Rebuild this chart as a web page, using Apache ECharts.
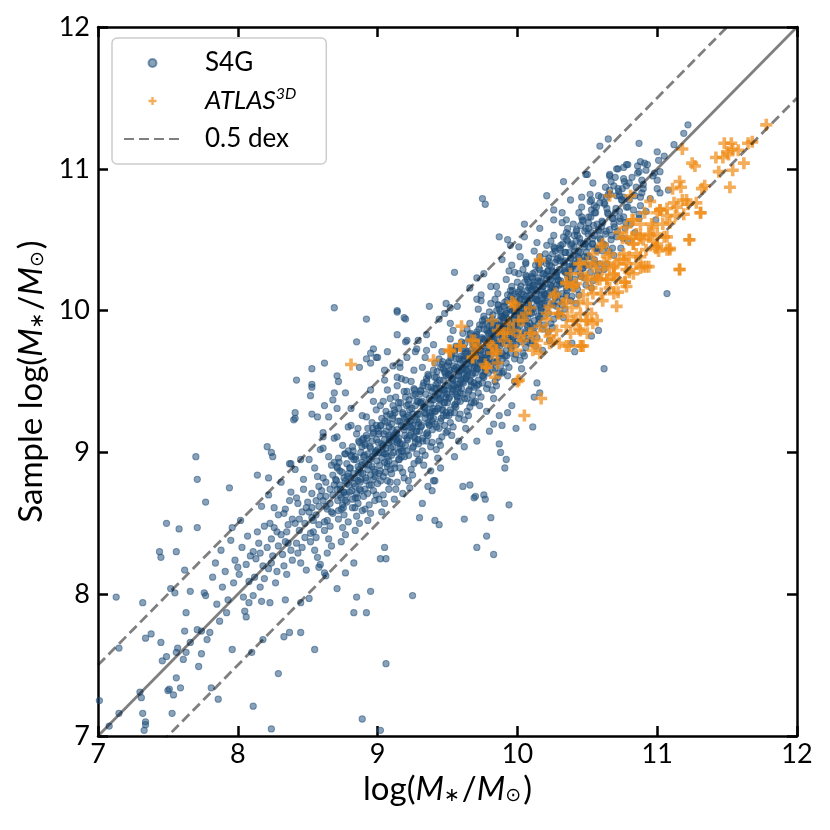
<!DOCTYPE html>
<html>
<head>
<meta charset="utf-8">
<title>S4G vs ATLAS3D stellar masses</title>
<script src="https://cdn.jsdelivr.net/npm/echarts@6.0.0/dist/echarts.min.js"></script>
<style>
  html, body { margin: 0; padding: 0; background: #ffffff; }
  #chart { width: 830px; height: 830px; }
</style>
</head>
<body>
<div id="chart"></div>
<script>
// 坐标轴范围与刻度
const axisMin = 7;
const axisMax = 12;
const tickStep = 1;
const tickValues = [7, 8, 9, 10, 11, 12];

// 参考线: 1:1 以及 ±0.5 dex
const lineX = [7, 12];
const dexOffset = 0.5;

// S4G 样本 (x = log M*, y = Sample log M*)
const s4gPoints = [
  // 左下方离散点
  [7.70,8.97],[7.71,8.81],[7.77,8.65],[7.94,8.75],[7.49,8.50],[7.58,8.46],[7.71,8.47],[7.44,8.30],[7.45,8.26],[7.56,8.30],
  [7.13,7.98],[7.32,7.94],[7.52,8.04],[7.55,8.01],[7.63,7.87],[7.62,8.17],[7.66,8.02],[7.76,8.01],[7.77,7.99],[7.34,7.69],
  [7.38,7.72],[7.45,7.66],[7.15,7.62],[7.49,7.56],[7.46,7.53],[7.57,7.62],[7.56,7.59],[7.62,7.74],[7.71,7.75],[7.74,7.74],
  [7.80,7.73],[7.78,7.68],[7.66,7.66],[7.63,7.59],[7.61,7.54],[7.74,7.58],[7.72,7.49],[7.56,7.41],[7.59,7.34],[7.50,7.32],
  [7.51,7.33],[7.54,7.29],[7.30,7.31],[7.31,7.27],[7.15,7.16],[7.32,7.16],[7.34,7.10],[7.34,7.08],[7.33,7.04],[7.08,7.07],
  [7.01,7.25],[7.53,7.16],[7.81,7.34],[7.86,7.26],[7.96,7.61],[8.10,7.59],[8.11,7.21],[8.18,7.68],[8.24,7.05],[8.29,7.44],
  [8.33,7.70],[8.37,7.73],[8.45,7.73],[8.55,7.61],[8.89,7.12],[9.02,7.04],[9.06,7.51],[8.83,7.87],[8.92,7.87],[8.85,7.98],
  [8.95,8.02],[9.25,7.99],[8.71,8.04],[8.51,7.97],[8.45,7.94],[8.34,7.96],[8.23,7.94],[8.17,7.95],[8.08,7.94],[8.06,7.84],
  [9.05,8.33],[9.02,8.25],[9.06,8.25],[8.77,8.15],[8.83,8.22],[8.62,8.15],[8.63,8.13],[8.59,8.21],[8.58,8.19],
  [8.21,9.04],[8.24,9.00],[8.25,8.97],[8.14,8.84],[8.22,8.82],[8.37,8.92],[8.40,9.23],
  // 左上方离散点
  [8.69,10.02],[8.92,9.94],[9.14,9.99],[9.20,9.94],[9.37,10.03],[8.85,9.78],[8.97,9.73],[8.95,9.70],[8.92,9.66],[9.00,9.67],
  [9.07,9.71],[8.62,9.63],[8.53,9.59],[8.87,9.60],[8.42,9.51],[8.71,9.54],[8.72,9.50],[8.53,9.46],[8.52,9.40],[8.69,9.42],
  [8.68,9.37],[8.77,9.42],[8.62,9.33],[8.41,9.28],[8.41,9.24],[8.53,9.27],[8.57,9.25],[8.65,9.25],[8.71,9.31],[8.81,9.31],
  [9.14,9.83],[9.20,9.78],[9.05,9.58],[9.16,9.60],[9.28,9.73],[9.35,9.72],[8.38,8.92],[8.61,9.14],[8.61,9.11],[8.53,9.48],
  [9.21,9.79],[9.29,9.79],[8.99,9.67],[8.95,9.63],[9.11,9.61],[9.16,9.63],[9.21,9.67],[9.27,9.71],[9.14,9.53],[9.20,9.51],
  [9.49,10.05],[9.57,10.03],[9.48,9.98],[9.44,9.94],[9.52,9.91],[9.35,9.83],[9.40,9.76],[9.52,10.02],
  // 上方离散点
  [10.65,11.21],[10.59,11.16],[10.87,11.18],[10.79,11.03],[10.76,11.01],[10.71,11.00],[10.66,10.95],[10.70,10.94],[10.49,10.96],[10.33,10.91],
  [10.54,10.90],[10.63,10.87],[10.69,10.88],[10.80,10.90],[10.86,10.97],[9.75,10.79],[9.77,10.75],[10.21,10.81],[10.38,10.78],[10.46,10.80],
  [10.52,10.77],[10.58,10.81],[10.64,10.80],[10.73,10.81],[10.26,10.71],[10.32,10.69],[10.26,10.64],[10.35,10.64],[10.05,10.61],[10.16,10.58],
  [9.87,10.52],[9.93,10.50],[10.05,10.52],[9.95,10.46],[10.01,10.45],[9.55,10.27],[10.02,10.38],[9.71,10.23],[9.76,10.26],[9.14,10.00],
  [9.19,9.95],[9.66,10.16],[9.74,10.11],[9.81,10.17],[9.71,10.08],[9.89,10.36],[9.96,10.32],[9.98,10.27],[10.06,10.34],[10.16,10.17],
  [11.22,11.31],[11.19,11.25],[11.00,11.12],[11.01,11.06],[10.88,11.05],[10.91,11.04],[10.92,10.99],[10.87,10.98],[10.78,11.03],[10.72,11.00],
  [10.50,10.96],[10.66,10.96],[10.90,10.89],[11.00,10.92],[10.98,10.97],[10.75,10.86],[10.76,10.80],[10.84,10.81],[10.89,10.83],[11.00,10.86],
  [11.02,10.83],[10.53,10.78],[10.59,10.76],[10.79,10.73],[10.88,10.74],[10.87,10.65],[11.07,10.12],[10.62,9.59],
  // 右下方离散点
  [10.14,9.49],[10.16,9.42],[10.12,9.39],[9.96,9.33],[9.93,9.28],[9.87,9.26],[9.89,9.19],[9.83,9.20],[9.99,9.17],[10.11,9.18],
  [9.87,9.06],[9.88,9.00],[9.92,8.95],[9.91,8.89],[9.80,9.15],[9.71,9.08],[9.61,8.76],[9.66,8.77],[9.69,8.68],[9.77,8.67],
  [9.94,8.63],[9.81,8.54],[9.62,8.53],[9.41,8.52],[9.44,8.49],[9.30,8.54],[9.32,8.64],[9.78,8.41],[9.71,8.33],[9.83,8.28],
  [9.36,8.76],[9.39,8.73],[9.41,8.80],[9.45,8.89],[9.55,8.97],[9.62,9.04],[9.70,8.69],[9.76,8.70],[9.40,8.80],
  [10.39,9.77],[10.41,9.71],[10.53,9.82],[10.58,9.86],
  // 主体密集带
  [7.82,8.12],[7.85,7.93],[7.88,8.31],[7.84,8.22],[7.87,7.81],[7.89,8.05],
  [7.91,8.16],[7.93,7.96],[7.95,8.38],[7.97,8.08],[7.92,7.87],[7.98,8.24],[7.96,8.47],
  [8.01,8.14],[8.03,8.33],[8.04,7.98],[8.06,8.21],[8.02,8.52],[8.08,8.09],[8.07,8.41],[8.09,8.27],[8.05,7.88],[8.00,8.19],
  [8.11,8.30],[8.12,8.12],[8.14,8.44],[8.13,8.25],[8.16,8.05],[8.15,8.36],[8.17,8.62],[8.18,8.20],[8.19,8.48],[8.11,7.99],[8.16,8.29],[8.19,8.11],
  [8.21,8.33],[8.22,8.18],[8.23,8.50],[8.24,8.39],[8.25,8.27],[8.26,8.61],[8.27,8.08],[8.28,8.44],[8.29,8.34],[8.22,8.70],[8.24,8.22],[8.26,8.47],[8.28,8.16],[8.29,8.56],
  [8.31,8.42],[8.32,8.28],[8.33,8.57],[8.34,8.37],[8.35,8.14],[8.36,8.49],[8.37,8.66],[8.38,8.31],[8.39,8.53],[8.31,8.79],[8.33,8.20],[8.35,8.44],[8.36,8.36],[8.38,8.72],[8.39,8.24],[8.34,8.60],
  [8.41,8.50],[8.42,8.36],[8.43,8.64],[8.44,8.45],[8.45,8.22],[8.46,8.58],[8.47,8.74],[8.48,8.40],[8.49,8.61],[8.41,8.88],[8.43,8.29],[8.44,8.53],[8.46,8.33],[8.47,8.81],[8.48,8.50],[8.49,8.17],[8.42,8.68],[8.45,8.95],
  [8.51,8.58],[8.52,8.43],[8.53,8.71],[8.54,8.52],[8.55,8.31],[8.56,8.66],[8.57,8.83],[8.58,8.49],[8.59,8.69],[8.51,8.95],[8.52,8.37],[8.53,8.61],[8.54,8.44],[8.55,8.89],[8.56,8.56],[8.57,8.26],[8.58,8.76],[8.59,9.02],[8.50,8.65],[8.53,8.54],[8.56,8.40],[8.58,8.62],
  [8.61,8.66],[8.62,8.51],[8.63,8.79],[8.64,8.60],[8.65,8.39],[8.66,8.74],[8.67,8.91],[8.68,8.57],[8.69,8.77],[8.61,9.03],[8.62,8.45],[8.63,8.69],[8.64,8.52],[8.65,8.97],[8.66,8.64],[8.67,8.34],[8.68,8.84],[8.69,9.10],[8.60,8.73],[8.63,8.62],[8.66,8.48],[8.68,8.70],[8.61,8.82],[8.64,8.29],[8.67,8.58],[8.69,8.93],
  [8.71,8.74],[8.72,8.59],[8.73,8.87],[8.74,8.68],[8.75,8.47],[8.76,8.82],[8.77,8.99],[8.78,8.65],[8.79,8.85],[8.71,9.11],[8.72,8.53],[8.73,8.77],[8.74,8.60],[8.75,9.05],[8.76,8.72],[8.77,8.42],[8.78,8.92],[8.79,9.18],[8.70,8.81],[8.73,8.70],[8.76,8.56],[8.78,8.78],[8.71,8.90],[8.74,8.37],[8.77,8.66],[8.79,9.01],[8.72,8.96],[8.75,8.63],[8.77,8.80],[8.79,8.51],
  [8.81,8.82],[8.82,8.67],[8.83,8.95],[8.84,8.76],[8.85,8.55],[8.86,8.90],[8.87,9.07],[8.88,8.73],[8.89,8.93],[8.81,9.19],[8.82,8.61],[8.83,8.85],[8.84,8.68],[8.85,9.13],[8.86,8.80],[8.87,8.50],[8.88,9.00],[8.89,9.26],[8.80,8.89],[8.83,8.78],[8.86,8.64],[8.88,8.86],[8.81,8.98],[8.84,8.45],[8.87,8.74],[8.89,9.09],[8.82,9.04],[8.85,8.71],[8.87,8.88],[8.89,8.59],[8.80,8.72],[8.84,8.97],[8.86,9.17],[8.88,8.81],
  [8.90,8.97],[8.91,8.74],[8.92,9.12],[8.93,8.88],[8.94,8.63],[8.95,9.03],[8.96,9.21],[8.97,8.81],[8.98,8.99],[8.99,9.30],[8.90,8.69],[8.91,8.92],[8.92,8.80],[8.93,9.17],[8.94,8.95],[8.95,8.57],[8.96,9.08],[8.97,9.36],[8.98,8.86],[8.99,8.70],[8.91,9.05],[8.93,8.52],[8.95,8.84],[8.97,9.14],[8.99,9.01],[8.92,9.25],[8.94,8.77],[8.96,8.90],[8.98,8.66],[8.90,9.10],[8.93,8.99],[8.95,9.44],[8.97,8.73],[8.99,9.19],[8.91,8.60],[8.96,8.97],
  [9.00,9.02],[9.01,8.85],[9.02,9.19],[9.03,8.96],[9.04,8.70],[9.05,9.09],[9.06,9.29],[9.07,8.90],[9.08,9.07],[9.09,9.38],[9.00,8.78],[9.01,9.00],[9.02,8.87],[9.03,9.24],[9.04,9.05],[9.05,8.64],[9.06,9.15],[9.07,9.44],[9.08,8.94],[9.09,8.79],[9.01,9.13],[9.03,8.58],[9.05,8.93],[9.07,9.21],[9.09,9.11],[9.02,9.33],[9.04,8.83],[9.06,8.99],[9.08,8.74],[9.00,9.17],[9.03,9.06],[9.05,9.51],[9.07,8.80],[9.09,9.27],[9.01,8.67],[9.06,9.03],[9.04,9.36],[9.08,9.12],
  [9.10,9.08],[9.11,9.26],[9.12,8.92],[9.13,9.14],[9.14,8.79],[9.15,9.35],[9.16,9.03],[9.17,9.19],[9.18,8.86],[9.19,9.43],[9.10,8.98],[9.11,9.11],[9.12,9.30],[9.13,8.74],[9.14,9.07],[9.15,8.95],[9.16,9.22],[9.17,9.52],[9.18,9.01],[9.19,8.82],[9.10,9.20],[9.12,8.67],[9.14,9.16],[9.16,8.89],[9.18,9.28],[9.11,9.04],[9.13,9.39],[9.15,9.10],[9.17,8.97],[9.19,9.16],[9.10,8.85],[9.12,9.12],[9.14,9.47],[9.16,9.06],[9.18,8.71],[9.11,9.33],[9.15,9.00],[9.19,9.24],
  [9.20,9.18],[9.21,9.01],[9.22,9.34],[9.23,9.12],[9.24,8.88],[9.25,9.27],[9.26,9.45],[9.27,9.07],[9.28,9.23],[9.29,8.94],[9.20,9.39],[9.21,9.21],[9.22,8.80],[9.23,9.30],[9.24,9.14],[9.25,9.03],[9.26,9.58],[9.27,9.25],[9.28,8.99],[9.29,9.36],[9.21,9.10],[9.23,8.75],[9.25,9.19],[9.27,9.41],[9.29,9.09],[9.22,9.26],[9.24,9.50],[9.26,8.92],[9.28,9.15],[9.20,9.05],[9.23,9.22],[9.25,8.84],[9.27,9.33],[9.29,9.20],[9.21,9.43],[9.26,9.11],
  [9.30,9.27],[9.31,9.44],[9.32,9.10],[9.33,9.32],[9.34,8.98],[9.35,9.52],[9.36,9.21],[9.37,9.38],[9.38,9.04],[9.39,9.29],[9.30,9.15],[9.31,9.35],[9.32,9.60],[9.33,8.91],[9.34,9.24],[9.35,9.13],[9.36,9.46],[9.37,9.19],[9.38,9.34],[9.39,9.07],[9.30,9.41],[9.32,9.01],[9.34,9.31],[9.36,9.55],[9.38,9.26],[9.31,9.18],[9.33,9.49],[9.35,9.08],[9.37,9.28],[9.39,9.43],[9.30,8.95],[9.32,9.36],[9.34,9.67],[9.36,9.12],[9.38,8.87],[9.39,9.22],
  [9.40,9.37],[9.41,9.20],[9.42,9.53],[9.43,9.31],[9.44,9.08],[9.45,9.45],[9.46,9.62],[9.47,9.26],[9.48,9.42],[9.49,9.14],[9.40,9.58],[9.41,9.40],[9.42,9.02],[9.43,9.49],[9.44,9.33],[9.45,9.22],[9.46,9.71],[9.47,9.44],[9.48,9.19],[9.49,9.54],[9.41,9.29],[9.43,8.96],[9.45,9.38],[9.47,9.59],[9.49,9.28],[9.42,9.45],[9.44,9.66],[9.46,9.11],[9.48,9.35],[9.40,9.24],[9.43,9.41],[9.45,9.05],[9.47,9.51],[9.49,9.39],[9.41,9.63],[9.46,9.30],[9.44,9.17],[9.48,9.57],
  [9.50,9.47],[9.51,9.64],[9.52,9.30],[9.53,9.52],[9.54,9.18],[9.55,9.72],[9.56,9.41],[9.57,9.58],[9.58,9.24],[9.59,9.49],[9.50,9.35],[9.51,9.55],[9.52,9.80],[9.53,9.12],[9.54,9.44],[9.55,9.33],[9.56,9.66],[9.57,9.39],[9.58,9.54],[9.59,9.27],[9.50,9.61],[9.52,9.21],[9.54,9.51],[9.56,9.75],[9.58,9.46],[9.51,9.38],[9.53,9.69],[9.55,9.28],[9.57,9.48],[9.59,9.63],[9.50,9.15],[9.52,9.56],[9.54,9.86],[9.56,9.32],[9.58,9.08],[9.59,9.42],[9.51,9.26],[9.55,9.59],[9.57,9.36],[9.53,9.45],
  [9.60,9.58],[9.61,9.41],[9.62,9.73],[9.63,9.52],[9.64,9.29],[9.65,9.66],[9.66,9.83],[9.67,9.47],[9.68,9.63],[9.69,9.35],[9.60,9.78],[9.61,9.60],[9.62,9.23],[9.63,9.70],[9.64,9.54],[9.65,9.43],[9.66,9.91],[9.67,9.65],[9.68,9.40],[9.69,9.75],[9.61,9.50],[9.63,9.17],[9.65,9.59],[9.67,9.80],[9.69,9.49],[9.62,9.66],[9.64,9.87],[9.66,9.32],[9.68,9.56],[9.60,9.45],[9.63,9.62],[9.65,9.26],[9.67,9.72],[9.69,9.60],[9.61,9.84],[9.66,9.51],[9.64,9.38],[9.68,9.78],[9.62,9.55],[9.67,9.35],[9.60,9.68],[9.69,9.69],
  [9.70,9.68],[9.71,9.85],[9.72,9.51],[9.73,9.73],[9.74,9.39],[9.75,9.93],[9.76,9.62],[9.77,9.79],[9.78,9.45],[9.79,9.70],[9.70,9.56],[9.71,9.76],[9.72,10.01],[9.73,9.33],[9.74,9.65],[9.75,9.54],[9.76,9.87],[9.77,9.60],[9.78,9.75],[9.79,9.48],[9.70,9.82],[9.72,9.42],[9.74,9.72],[9.76,9.96],[9.78,9.67],[9.71,9.59],[9.73,9.90],[9.75,9.49],[9.77,9.69],[9.79,9.84],[9.70,9.36],[9.72,9.77],[9.74,10.07],[9.76,9.53],[9.78,9.29],[9.79,9.63],[9.71,9.47],[9.75,9.80],[9.77,9.57],[9.73,9.66],[9.70,9.74],[9.74,9.58],[9.78,9.91],[9.72,9.63],
  [9.80,9.79],[9.81,9.62],[9.82,9.94],[9.83,9.73],[9.84,9.50],[9.85,9.87],[9.86,10.04],[9.87,9.68],[9.88,9.84],[9.89,9.56],[9.80,9.99],[9.81,9.81],[9.82,9.44],[9.83,9.91],[9.84,9.75],[9.85,9.64],[9.86,10.12],[9.87,9.86],[9.88,9.61],[9.89,9.96],[9.81,9.71],[9.83,9.38],[9.85,9.80],[9.87,10.01],[9.89,9.70],[9.82,9.87],[9.84,10.08],[9.86,9.53],[9.88,9.77],[9.80,9.66],[9.83,9.83],[9.85,9.47],[9.87,9.93],[9.89,9.81],[9.81,10.05],[9.86,9.72],[9.84,9.59],[9.88,9.99],[9.82,9.76],[9.87,9.56],[9.80,9.89],[9.89,9.90],[9.83,9.64],[9.85,10.17],
  [9.90,9.89],[9.91,10.06],[9.92,9.72],[9.93,9.94],[9.94,9.60],[9.95,10.14],[9.96,9.83],[9.97,10.00],[9.98,9.66],[9.99,9.91],[9.90,9.77],[9.91,9.97],[9.92,10.22],[9.93,9.54],[9.94,9.86],[9.95,9.75],[9.96,10.08],[9.97,9.81],[9.98,9.96],[9.99,9.69],[9.90,10.03],[9.92,9.63],[9.94,9.93],[9.96,10.17],[9.98,9.88],[9.91,9.80],[9.93,10.11],[9.95,9.70],[9.97,9.90],[9.99,10.05],[9.90,9.57],[9.92,9.98],[9.94,10.28],[9.96,9.74],[9.98,9.50],[9.99,9.84],[9.91,9.68],[9.95,10.01],[9.97,9.78],[9.93,9.87],[9.90,9.95],[9.94,9.79],[9.98,10.12],[9.92,9.84],
  [10.00,9.99],[10.01,9.82],[10.02,10.15],[10.03,9.93],[10.04,9.70],[10.05,10.08],[10.06,10.25],[10.07,9.89],[10.08,10.05],[10.09,9.77],[10.00,10.20],[10.01,10.02],[10.02,9.65],[10.03,10.12],[10.04,9.96],[10.05,9.85],[10.06,10.33],[10.07,10.07],[10.08,9.82],[10.09,10.17],[10.01,9.92],[10.03,9.59],[10.05,10.01],[10.07,10.22],[10.09,9.91],[10.02,10.08],[10.04,10.29],[10.06,9.74],[10.08,9.98],[10.00,9.87],[10.03,10.04],[10.05,9.68],[10.07,10.14],[10.09,10.02],[10.01,10.26],[10.06,9.93],[10.04,9.80],[10.08,10.20],[10.02,9.97],[10.07,9.78],[10.00,10.10],[10.09,10.11],
  [10.10,10.09],[10.11,10.26],[10.12,9.93],[10.13,10.15],[10.14,9.81],[10.15,10.34],[10.16,10.04],[10.17,10.21],[10.18,9.87],[10.19,10.12],[10.10,9.98],[10.11,10.18],[10.12,10.42],[10.13,9.75],[10.14,10.07],[10.15,9.96],[10.16,10.29],[10.17,10.02],[10.18,10.17],[10.19,9.90],[10.10,10.24],[10.12,9.84],[10.14,10.14],[10.16,10.38],[10.18,10.09],[10.11,10.01],[10.13,10.32],[10.15,9.91],[10.17,10.11],[10.19,10.26],[10.10,9.79],[10.12,10.20],[10.14,10.48],[10.16,9.95],[10.18,9.72],[10.19,10.05],[10.11,9.89],[10.15,10.23],[10.17,9.99],[10.13,10.08],
  [10.20,10.19],[10.21,10.02],[10.22,10.35],[10.23,10.13],[10.24,9.91],[10.25,10.28],[10.26,10.45],[10.27,10.09],[10.28,10.25],[10.29,9.97],[10.20,10.40],[10.21,10.22],[10.22,9.85],[10.23,10.32],[10.24,10.16],[10.25,10.05],[10.26,10.53],[10.27,10.27],[10.28,10.03],[10.29,10.37],[10.21,10.12],[10.23,9.79],[10.25,10.21],[10.27,10.42],[10.29,10.11],[10.22,10.28],[10.24,10.49],[10.26,9.94],[10.28,10.18],[10.20,10.07],[10.23,10.24],[10.25,9.88],[10.27,10.34],[10.29,10.22],[10.21,10.46],[10.26,10.14],
  [10.30,10.29],[10.31,10.46],[10.32,10.12],[10.33,10.34],[10.34,10.01],[10.35,10.55],[10.36,10.24],[10.37,10.41],[10.38,10.07],[10.39,10.32],[10.30,10.18],[10.31,10.38],[10.32,10.62],[10.33,9.95],[10.34,10.27],[10.35,10.16],[10.36,10.49],[10.37,10.22],[10.38,10.37],[10.39,10.10],[10.30,10.44],[10.32,10.04],[10.34,10.35],[10.36,10.58],[10.38,10.29],[10.31,10.21],[10.33,10.52],[10.35,10.11],[10.37,10.31],[10.39,10.47],[10.30,9.98],[10.34,10.41],
  [10.40,10.39],[10.41,10.22],[10.42,10.56],[10.43,10.34],[10.44,10.11],[10.45,10.48],[10.46,10.66],[10.47,10.30],[10.48,10.45],[10.49,10.18],[10.40,10.61],[10.41,10.42],[10.42,10.05],[10.43,10.53],[10.44,10.37],[10.45,10.26],[10.46,10.73],[10.47,10.47],[10.48,10.23],[10.49,10.58],[10.41,10.33],[10.43,10.15],[10.45,10.41],[10.47,10.63],[10.49,10.32],[10.42,10.49],[10.44,10.69],[10.48,10.38],
  [10.50,10.49],[10.51,10.66],[10.52,10.32],[10.53,10.55],[10.54,10.21],[10.55,10.74],[10.56,10.44],[10.57,10.61],[10.58,10.28],[10.59,10.51],[10.50,10.38],[10.51,10.58],[10.52,10.82],[10.53,10.16],[10.54,10.47],[10.55,10.36],[10.56,10.69],[10.57,10.42],[10.58,10.57],[10.59,10.33],[10.51,10.45],[10.53,10.71],[10.55,10.53],[10.57,10.25],
  [10.60,10.59],[10.61,10.42],[10.62,10.76],[10.63,10.54],[10.64,10.33],[10.65,10.68],[10.66,10.85],[10.67,10.50],[10.68,10.65],[10.69,10.39],[10.60,10.80],[10.61,10.62],[10.63,10.46],[10.64,10.72],[10.66,10.57],[10.67,10.91],[10.68,10.44],[10.69,10.61],[10.62,10.29],[10.65,10.82],
  [10.70,10.69],[10.71,10.52],[10.72,10.86],[10.73,10.63],[10.74,10.44],[10.75,10.78],[10.76,10.93],[10.77,10.58],[10.78,10.73],[10.79,10.49],[10.71,10.81],[10.73,10.70],[10.76,10.66],[10.78,10.88],
  [10.80,10.78],[10.81,10.61],[10.82,10.94],[10.83,10.71],[10.84,10.55],[10.85,10.87],[10.86,11.02],[10.87,10.68],[10.88,10.80],[10.89,10.92],
  [10.90,10.86],[10.92,10.70],[10.93,11.03],[10.95,10.79],[10.97,10.95],[10.99,10.64],
  [11.02,10.98],[11.05,11.09],[11.08,10.85],[11.12,11.17],
  // 主体密集带 (更靠近中心的点)
  [8.705,8.80],[8.715,8.66],[8.725,8.93],[8.735,8.74],[8.745,8.86],[8.755,8.61],[8.765,8.99],[8.775,8.70],[8.785,8.83],[8.795,8.77],[8.712,8.89],[8.758,8.72],
  [8.805,8.89],[8.815,8.73],[8.825,9.01],[8.835,8.82],[8.845,8.95],[8.855,8.68],[8.865,9.08],[8.875,8.79],[8.885,8.91],[8.895,8.85],[8.812,8.97],[8.838,8.61],[8.862,8.86],[8.888,9.04],
  [8.905,8.98],[8.915,8.82],[8.925,9.10],[8.935,8.91],[8.945,9.04],[8.955,8.77],[8.965,9.17],[8.975,8.88],[8.985,9.00],[8.995,8.94],[8.912,9.06],[8.928,8.71],[8.948,8.95],[8.968,9.13],[8.982,8.83],[8.992,9.09],
  [9.005,9.07],[9.015,8.91],[9.025,9.19],[9.035,9.00],[9.045,9.13],[9.055,8.86],[9.065,9.26],[9.075,8.97],[9.085,9.09],[9.095,9.03],[9.008,9.15],[9.022,8.80],[9.038,9.04],[9.052,9.22],[9.068,8.92],[9.082,9.18],[9.092,8.88],[9.048,8.99],
  [9.105,9.16],[9.115,9.00],[9.125,9.28],[9.135,9.09],[9.145,9.22],[9.155,8.95],[9.165,9.35],[9.175,9.06],[9.185,9.18],[9.195,9.12],[9.108,9.24],[9.122,8.89],[9.138,9.13],[9.152,9.31],[9.168,9.01],[9.182,9.27],[9.192,8.97],[9.148,9.08],
  [9.205,9.25],[9.215,9.09],[9.225,9.37],[9.235,9.18],[9.245,9.31],[9.255,9.04],[9.265,9.44],[9.275,9.15],[9.285,9.27],[9.295,9.21],[9.208,9.33],[9.222,8.98],[9.238,9.22],[9.252,9.40],[9.268,9.10],[9.282,9.36],[9.292,9.06],[9.248,9.17],
  [9.305,9.35],[9.315,9.19],[9.325,9.47],[9.335,9.28],[9.345,9.41],[9.355,9.14],[9.365,9.54],[9.375,9.25],[9.385,9.37],[9.395,9.31],[9.308,9.43],[9.322,9.08],[9.338,9.32],[9.352,9.50],[9.368,9.20],[9.382,9.46],[9.392,9.16],[9.348,9.27],
  [9.405,9.45],[9.415,9.29],[9.425,9.57],[9.435,9.38],[9.445,9.51],[9.455,9.24],[9.465,9.64],[9.475,9.35],[9.485,9.47],[9.495,9.41],[9.408,9.53],[9.422,9.18],[9.438,9.42],[9.452,9.60],[9.468,9.30],[9.482,9.56],[9.492,9.26],[9.448,9.37],[9.418,9.48],[9.478,9.44],
  [9.505,9.55],[9.515,9.39],[9.525,9.67],[9.535,9.48],[9.545,9.61],[9.555,9.34],[9.565,9.74],[9.575,9.45],[9.585,9.57],[9.595,9.51],[9.508,9.63],[9.522,9.28],[9.538,9.52],[9.552,9.70],[9.568,9.40],[9.582,9.66],[9.592,9.36],[9.548,9.47],[9.518,9.58],[9.578,9.54],[9.532,9.43],[9.562,9.60],
  [9.605,9.65],[9.615,9.49],[9.625,9.77],[9.635,9.58],[9.645,9.71],[9.655,9.44],[9.665,9.84],[9.675,9.55],[9.685,9.67],[9.695,9.61],[9.608,9.73],[9.622,9.38],[9.638,9.62],[9.652,9.80],[9.668,9.50],[9.682,9.76],[9.692,9.46],[9.648,9.57],[9.618,9.68],[9.678,9.64],[9.632,9.53],[9.662,9.70],[9.602,9.59],[9.698,9.74],
  [9.705,9.75],[9.715,9.59],[9.725,9.87],[9.735,9.68],[9.745,9.81],[9.755,9.54],[9.765,9.94],[9.775,9.65],[9.785,9.77],[9.795,9.71],[9.708,9.83],[9.722,9.48],[9.738,9.72],[9.752,9.90],[9.768,9.60],[9.782,9.86],[9.792,9.56],[9.748,9.67],[9.718,9.78],[9.778,9.74],[9.732,9.63],[9.762,9.80],[9.702,9.69],[9.798,9.84],
  [9.805,9.85],[9.815,9.69],[9.825,9.97],[9.835,9.78],[9.845,9.91],[9.855,9.64],[9.865,10.04],[9.875,9.75],[9.885,9.87],[9.895,9.81],[9.808,9.93],[9.822,9.58],[9.838,9.82],[9.852,10.00],[9.868,9.70],[9.882,9.96],[9.892,9.66],[9.848,9.77],[9.818,9.88],[9.878,9.84],[9.832,9.73],[9.862,9.90],[9.802,9.79],[9.898,9.94],
  [9.905,9.95],[9.915,9.79],[9.925,10.07],[9.935,9.88],[9.945,10.01],[9.955,9.74],[9.965,10.14],[9.975,9.85],[9.985,9.97],[9.995,9.91],[9.908,10.03],[9.922,9.68],[9.938,9.92],[9.952,10.10],[9.968,9.80],[9.982,10.06],[9.992,9.76],[9.948,9.87],[9.918,9.98],[9.978,9.94],[9.932,9.83],[9.962,10.00],[9.902,9.89],[9.998,10.04],
  [10.005,10.05],[10.015,9.89],[10.025,10.17],[10.035,9.98],[10.045,10.11],[10.055,9.84],[10.065,10.24],[10.075,9.95],[10.085,10.07],[10.095,10.01],[10.008,10.13],[10.022,9.78],[10.038,10.02],[10.052,10.20],[10.068,9.90],[10.082,10.16],[10.092,9.86],[10.048,9.97],[10.018,10.08],[10.078,10.04],[10.032,9.93],[10.062,10.10],[10.002,9.99],[10.098,10.14],
  [10.105,10.15],[10.115,9.99],[10.125,10.27],[10.135,10.08],[10.145,10.21],[10.155,9.94],[10.165,10.34],[10.175,10.05],[10.185,10.17],[10.195,10.11],[10.108,10.23],[10.122,9.88],[10.138,10.12],[10.152,10.30],[10.168,10.00],[10.182,10.26],[10.192,9.96],[10.148,10.07],[10.118,10.18],[10.178,10.14],[10.132,10.03],[10.162,10.20],
  [10.205,10.25],[10.215,10.09],[10.225,10.37],[10.235,10.18],[10.245,10.31],[10.255,10.04],[10.265,10.44],[10.275,10.15],[10.285,10.27],[10.295,10.21],[10.208,10.33],[10.222,9.98],[10.238,10.22],[10.252,10.40],[10.268,10.10],[10.282,10.36],[10.292,10.06],[10.248,10.17],[10.218,10.28],[10.278,10.24],
  [10.305,10.35],[10.315,10.19],[10.325,10.47],[10.335,10.28],[10.345,10.41],[10.355,10.14],[10.365,10.54],[10.375,10.25],[10.385,10.37],[10.395,10.31],[10.308,10.43],[10.322,10.08],[10.338,10.32],[10.352,10.50],[10.368,10.20],[10.382,10.46],[10.392,10.16],[10.348,10.27],
  [10.405,10.45],[10.415,10.29],[10.425,10.57],[10.435,10.38],[10.445,10.51],[10.455,10.24],[10.465,10.64],[10.475,10.35],[10.485,10.47],[10.495,10.41],[10.408,10.53],[10.422,10.18],[10.438,10.42],[10.452,10.60],[10.468,10.30],[10.482,10.56],
  [10.505,10.54],[10.515,10.38],[10.525,10.66],[10.535,10.47],[10.545,10.60],[10.555,10.33],[10.565,10.73],[10.575,10.44],[10.585,10.56],[10.595,10.50],[10.508,10.62],[10.522,10.27],[10.538,10.51],[10.552,10.69],
  [10.605,10.63],[10.615,10.47],[10.625,10.75],[10.635,10.56],[10.645,10.69],[10.655,10.42],[10.665,10.82],[10.675,10.53],[10.685,10.65],[10.695,10.59],
  [10.705,10.72],[10.715,10.56],[10.725,10.84],[10.735,10.65],[10.745,10.78],[10.755,10.51],[10.765,10.91],[10.775,10.62]
];

// ATLAS3D 样本
const atlasPoints = [
  [11.78,11.31],[11.68,11.19],[11.65,11.18],[11.48,11.18],[11.53,11.18],[11.54,11.14],[11.50,11.12],[11.58,11.13],[11.51,11.10],[11.42,11.08],
  [11.47,11.08],[11.62,11.04],[11.18,11.14],[11.25,11.04],[11.27,11.02],[11.44,10.98],[11.54,10.99],[11.34,10.88],[11.32,10.86],[11.52,10.87],
  [11.16,10.91],[11.11,10.86],[11.17,10.87],[10.66,10.81],[10.81,10.81],[10.83,10.64],[10.95,10.77],[10.91,10.69],[11.02,10.71],[11.07,10.72],
  [11.14,10.73],[11.18,10.78],[11.22,10.75],[11.28,10.76],[11.31,10.69],[11.07,10.67],[11.13,10.67],[11.04,10.61],[11.19,10.68],[11.09,10.62],
  [11.00,10.69],[10.82,10.64],[10.88,10.61],[10.96,10.61],[10.94,10.54],[10.85,10.54],[11.00,10.54],[10.90,10.50],[10.97,10.49],[10.78,10.51],
  [10.83,10.47],[11.23,10.50],[11.05,10.52],[11.00,10.45],[11.09,10.44],[11.01,10.42],[11.16,10.29],[10.94,10.31],[10.88,10.38],[10.80,10.27],
  [10.77,10.20],[10.69,10.26],[10.61,10.47],[10.54,10.40],[10.66,10.40],[10.73,10.36],[10.78,10.33],[10.45,10.33],[10.54,10.31],[10.61,10.29],
  [10.38,10.26],[10.42,10.19],[10.35,10.19],[10.50,10.24],[10.59,10.22],[10.16,10.35],[10.44,10.33],[10.50,10.34],[10.56,10.33],[10.62,10.34],
  [10.66,10.31],[10.71,10.33],[10.76,10.36],[10.80,10.38],[10.85,10.40],[10.92,10.43],[10.99,10.44],[11.07,10.43],[10.75,10.51],[10.82,10.52],
  [10.88,10.53],[10.95,10.53],[10.45,10.26],[10.35,10.20],[10.40,10.17],[10.50,10.22],[10.57,10.24],[10.64,10.22],[10.69,10.25],[10.78,10.29],
  [10.88,10.30],[10.72,10.13],[10.66,10.16],[10.60,10.12],[10.53,10.16],[10.47,10.11],[10.44,10.06],[10.39,10.02],[10.27,10.12],[10.33,10.05],
  [10.23,10.03],[10.21,9.94],[10.29,9.98],[10.36,9.96],[10.42,9.93],[10.49,9.93],[10.53,9.98],[10.35,9.89],[10.28,9.86],[10.16,9.89],
  [10.09,9.84],[10.14,9.79],[10.23,9.82],[10.04,9.79],[9.99,9.72],[9.92,9.84],[9.98,10.03],[9.96,10.06],[10.06,9.98],[10.01,9.93],
  [9.94,9.91],[9.86,9.86],[9.82,9.93],[9.80,9.77],[9.82,9.70],[9.86,9.63],[9.78,9.60],[9.68,9.67],[9.60,9.89],[9.52,9.72],
  [9.59,9.75],[9.69,9.79],[9.85,9.72],[9.90,9.79],[10.11,9.72],[10.16,9.70],[10.23,9.77],[10.30,9.77],[10.37,9.75],[10.45,9.75],
  [10.44,9.87],[10.57,9.93],[10.01,9.51],[10.17,9.38],[10.05,9.26],[8.81,9.62],[9.40,9.65],[9.51,9.72],[10.16,10.36],[9.84,9.53],
  [9.82,9.75],[9.85,9.70],[9.97,9.86],[10.02,9.82],[9.95,9.75],[9.90,9.84],[9.98,10.05],[10.09,10.02],[10.04,9.93],[10.11,9.84],
  [10.13,9.75],[10.21,9.86],[10.26,9.79],[10.30,9.98],[10.21,9.98],[10.26,10.10],[10.35,10.07],[10.40,10.17],[10.45,9.98],[10.50,10.05],
  [10.38,9.84],[10.46,9.75],[10.35,9.75],[10.50,9.93],[10.54,10.12],[10.57,10.22],[10.64,10.22],[10.69,10.31],[10.76,10.40],[10.83,10.47],
  [10.88,10.51],[10.73,10.55],[10.78,10.59],[10.60,10.45],[10.64,10.38],[10.71,10.22],[10.78,10.17],[10.85,10.33],[10.92,10.31],[11.00,10.47],
  [11.07,10.52],[10.97,10.59],[11.02,10.71],[11.12,10.76],[11.21,10.78],[11.31,10.69],[11.16,10.29],[11.23,10.50],[11.09,10.43],[10.45,9.86],
  [10.54,9.91],[10.47,9.75],[10.61,10.07],[10.69,10.12],[10.77,10.20],[10.83,10.26],[10.90,10.31],[10.71,10.03],[10.50,9.84],[10.40,9.93],
  [9.52,9.71],[9.59,9.75],[9.67,9.79],[9.70,9.73],[9.68,9.67],[9.77,9.62],[10.00,9.50],[9.72,9.75],[9.78,9.60]
];

const FONT = 'Lato, "DejaVu Sans", sans-serif';
const LINE_COLOR = 'rgba(0, 0, 0, 0.5)';
const PLUS_PATH = 'path://M4.2,0H7.8V4.2H12V7.8H7.8V12H4.2V7.8H0V4.2H4.2Z';

function makeAxis(dir, position, showLabel, nameText) {
    const axis = {
        type: 'value',
        position: position,
        min: axisMin,
        max: axisMax,
        interval: tickStep,
        axisLine: { show: true, onZero: false, lineStyle: { color: '#000', width: 2.5 } },
        axisTick: { show: true, inside: true, length: 10, lineStyle: { color: '#000', width: 2.5 } },
        axisLabel: {
            show: showLabel,
            color: '#000',
            fontFamily: FONT,
            fontSize: 27,
            margin: dir === 'x' ? 5 : 8,
            customValues: tickValues
        },
        splitLine: { show: false }
    };
    if (nameText) {
        axis.name = nameText;
        axis.nameLocation = 'middle';
        axis.nameGap = dir === 'x' ? 37 : 45;
        axis.nameTextStyle = {
            color: '#000',
            fontFamily: FONT,
            fontSize: 33,
            rich: {
                n: { fontFamily: FONT, fontSize: 33, color: '#000' },
                i: { fontFamily: FONT, fontSize: 33, fontStyle: 'italic', color: '#000' },
                s: { fontFamily: '"DejaVu Sans", sans-serif', fontSize: 19, color: '#000', verticalAlign: 'bottom', padding: [0, 2, 0, 0] }
            }
        };
    }
    return axis;
}

const chart = echarts.init(document.getElementById('chart'), null, { renderer: 'canvas' });

const option = {
    animation: false,
    backgroundColor: '#ffffff',
    grid: { left: 98, right: 33, top: 27, bottom: 94, containLabel: false },
    xAxis: [
        makeAxis('x', 'bottom', true, '{n|log(}{i|M}{s|∗}{n|/}{i|M}{s|⊙}{n|)}'),
        makeAxis('x', 'top', false, null)
    ],
    yAxis: [
        makeAxis('y', 'left', true, '{n|Sample log(}{i|M}{s|∗}{n|/}{i|M}{s|⊙}{n|)}'),
        makeAxis('y', 'right', false, null)
    ],
    legend: {
        left: 112,
        top: 38,
        orient: 'vertical',
        itemWidth: 57,
        itemHeight: 8,
        itemGap: 8,
        padding: [10, 30, 10, 11],
        backgroundColor: 'rgba(255,255,255,0.85)',
        borderColor: '#cccccc',
        borderWidth: 1.5,
        borderRadius: 5,
        selectedMode: false,
        data: [
            { name: 'S4G', icon: 'circle' },
            { name: 'ATLAS3D', icon: PLUS_PATH },
            { name: '0.5 dex', itemStyle: { opacity: 0 } }
        ],
        formatter: name => name === 'ATLAS3D' ? '{it|ATLAS}{sup|3D}' : name,
        textStyle: {
            color: '#000',
            fontFamily: FONT,
            fontSize: 26,
            lineHeight: 30,
            padding: [0, 0, 0, 19],
            rich: {
                it: { fontFamily: FONT, fontSize: 26, fontStyle: 'italic', color: '#000' },
                sup: { fontFamily: FONT, fontSize: 16, fontStyle: 'italic', color: '#000', verticalAlign: 'top', lineHeight: 17 }
            }
        }
    },
    series: [
        {
            name: 'S4G',
            type: 'scatter',
            data: s4gPoints,
            symbol: 'circle',
            symbolSize: 6.3,
            itemStyle: { color: 'rgba(31, 78, 122, 0.66)', borderColor: 'rgba(31, 78, 122, 0.66)', borderWidth: 1 },
            z: 2,
            silent: true
        },
        {
            name: 'ATLAS3D',
            type: 'scatter',
            data: atlasPoints,
            symbol: PLUS_PATH,
            symbolSize: 12,
            itemStyle: { color: 'rgba(240, 138, 20, 0.88)' },
            z: 3,
            silent: true
        },
        {
            name: 'one-to-one',
            type: 'line',
            data: lineX.map(x => [x, x]),
            showSymbol: false,
            symbol: 'none',
            lineStyle: { color: LINE_COLOR, width: 2.8 },
            z: 5,
            silent: true
        },
        {
            name: '0.5 dex',
            type: 'line',
            data: lineX.map(x => [x, x + dexOffset]),
            showSymbol: false,
            symbol: 'none',
            clip: true,
            lineStyle: { color: LINE_COLOR, width: 2.8, type: [10, 5] },
            itemStyle: { color: LINE_COLOR },
            z: 5,
            silent: true
        },
        {
            name: '0.5 dex',
            type: 'line',
            data: lineX.map(x => [x, x - dexOffset]),
            showSymbol: false,
            symbol: 'none',
            clip: true,
            lineStyle: { color: LINE_COLOR, width: 2.8, type: [10, 5] },
            itemStyle: { color: LINE_COLOR },
            z: 5,
            silent: true
        }
    ]
};

chart.setOption(option);
</script>
</body>
</html>
